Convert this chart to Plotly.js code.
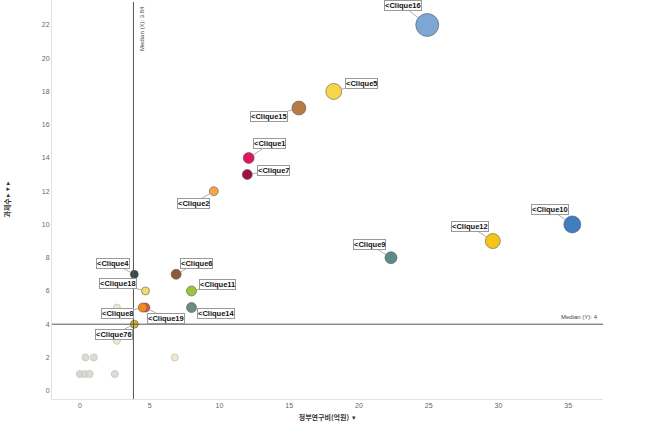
<!DOCTYPE html>
<html>
<head>
<meta charset="utf-8">
<script src="https://cdn.plot.ly/plotly-3.0.1.min.js"></script>
<style>html,body{margin:0;padding:0;background:#fff;}#chart{width:655px;height:433px;}</style>
</head>
<body>
<div id="chart"></div>
<script>
// Labelled cliques
const cliqueNames = ["Clique16","Clique5","Clique15","Clique1","Clique7","Clique2","Clique10","Clique12","Clique9","Clique4","Clique6","Clique18","Clique11","Clique19","Clique8","Clique14","Clique76"];
const funding =     [24.9, 18.2, 15.7, 12.1, 12.0, 9.6, 35.3, 29.6, 22.3, 3.9, 6.9, 4.7, 8.0, 4.7, 4.5, 8.0, 3.9];
const projects =    [22, 18, 17, 14, 13, 12, 10, 9, 8, 7, 7, 6, 6, 5, 5, 5, 4];
const bubbleSize =  [23, 16, 14, 11, 10, 9, 17, 15, 12, 8, 10, 8, 10, 9, 9, 10, 8];
const colors = ["#7ba7d2","#f6d648","#b77a44","#e4135f","#a1103f","#f5a54c","#3f7dbf","#f4c516","#5b8c8b","#3b4a45","#8c5a3b","#f1dc6b","#9cc43d","#d9534b","#f18a1e","#6b8e80","#d5b82b"];
// label box offsets (pixels) from each bubble
const labelDx = [-24, 28, -30, 21, 26, -20, -22, -23, -21, -21, 20, -27, 26, 21, -25, 25, -20];
const labelDy = [-19, -8, 8, -14, -4, 12, -15, -15, -13, -11, -11, -7, -6, 11, 6, 6, 10];

// Unlabelled (faded) cliques
const fadedX = [2.65, 2.65, 0.4, 1.0, 0.0, 0.35, 0.7, 2.5, 6.8];
const fadedY = [5, 3, 2, 2, 1, 1, 1, 1, 2];
const fadedColors = ["#e6e9d8","#ece6c4","#d6d6d6","#d9d9d2","#d4d4d0","#d6d6d2","#d9d9d6","#dadada","#f1e4c6"];

const medianX = 3.84;
const medianY = 4;

const xTicks = [0,5,10,15,20,25,30,35];
const yTicks = [0,2,4,6,8,10,12,14,16,18,20,22];

const traces = [
  {
    type: "scatter", mode: "markers",
    x: fadedX, y: fadedY,
    marker: {size: 7, color: fadedColors, opacity: 0.9, line: {color: "#c8c8b8", width: 1}},
    hoverinfo: "x+y", showlegend: false
  },
  {
    type: "scatter", mode: "markers",
    x: funding, y: projects, text: cliqueNames,
    marker: {size: bubbleSize, sizemode: "diameter", opacity: 1, color: colors, line: {color: "rgba(80,80,80,0.55)", width: 1}},
    hoverinfo: "text+x+y", showlegend: false
  }
];

const annotations = cliqueNames.map((n, i) => ({
  x: funding[i], y: projects[i], xref: "x", yref: "y",
  text: "<b>&lt;" + n + "</b>",
  showarrow: true, arrowhead: 0, arrowwidth: 0.8, arrowcolor: "#999",
  ax: labelDx[i], ay: labelDy[i], standoff: bubbleSize[i] / 2,
  bgcolor: "#fff", bordercolor: "#999", borderwidth: 1, borderpad: 0,
  font: {family: "Liberation Sans, Arial, sans-serif", size: 7.5, color: "#111"}
}));
annotations.push({
  x: medianX, y: 1, xref: "x", yref: "paper", xanchor: "left", yanchor: "top",
  xshift: 3, yshift: -4, text: "Median (X): " + medianX, textangle: -90, showarrow: false,
  font: {family: "Liberation Sans, Arial, sans-serif", size: 6, color: "#444"}
});
annotations.push({
  x: 1, y: medianY, xref: "paper", yref: "y", xanchor: "right", yanchor: "bottom",
  xshift: -3, yshift: 2, text: "Median (Y): " + medianY, showarrow: false,
  font: {family: "Liberation Sans, Arial, sans-serif", size: 6, color: "#444"}
});

const layout = {
  width: 655, height: 433,
  margin: {l: 52, r: 52, t: 0, b: 34},
  paper_bgcolor: "#fff", plot_bgcolor: "#fff",
  xaxis: {
    range: [-2, 37.5], tickvals: xTicks, ticktext: xTicks.map(String),
    showgrid: false, zeroline: false, showline: true, linecolor: "#e2e2e2", linewidth: 1,
    ticks: "", tickfont: {family: "Liberation Sans, Arial, sans-serif", size: 7, color: "#666"},
    title: {text: "<b>정부연구비(억원)</b>  ▾", standoff: 6, font: {family: "Noto Sans CJK KR, sans-serif", size: 7, color: "#333"}}
  },
  yaxis: {
    range: [-0.5, 23.5], tickvals: yTicks, ticktext: yTicks.map(String),
    showgrid: false, zeroline: false, showline: true, linecolor: "#e2e2e2", linewidth: 1,
    ticks: "", tickfont: {family: "Liberation Sans, Arial, sans-serif", size: 7, color: "#666"},
    title: {text: "<b>과제수</b> ▸ ▾ ▸", standoff: 30, font: {family: "Noto Sans CJK KR, sans-serif", size: 7, color: "#333"}}
  },
  shapes: [
    {type: "line", xref: "x", yref: "paper", x0: medianX, x1: medianX, y0: 0, y1: 0.995, line: {color: "#555", width: 1}},
    {type: "line", xref: "paper", yref: "y", x0: 0, x1: 1, y0: medianY, y1: medianY, line: {color: "#555", width: 1}}
  ],
  annotations: annotations
};

Plotly.newPlot("chart", traces, layout, {displayModeBar: false, staticPlot: true});
</script>
</body>
</html>
